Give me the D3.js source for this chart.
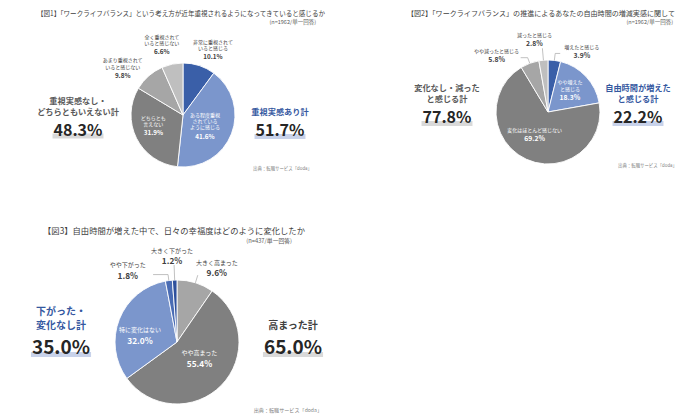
<!DOCTYPE html>
<html>
<head>
<meta charset="utf-8">
<script src="https://cdn.jsdelivr.net/npm/d3@7"></script>
<style>
  body { margin: 0; background: #fff; }
  svg { display: block; font-family: "Noto Sans CJK JP", "Noto Sans", sans-serif; }
</style>
</head>
<body>
<svg id="chart" width="700" height="420"></svg>
<script>
// ---- data ----
const fig1Title = "【図1】「ワークライフバランス」という考え方が近年重視されるようになってきていると感じるか";
const fig1Note = "(n=1962/単一回答)";
const fig1Categories = ["非常に重視されて\nいると感じる", "ある程度重視\nされている\nように感じる", "どちらとも\n言えない", "あまり重視されて\nいると感じない", "全く重視されて\nいると感じない"];
const fig1Values = [10.1, 41.6, 31.9, 9.8, 6.6];
const fig1TotalLabels = ["重視実感なし・\nどちらともいえない計", "重視実感あり計"];
const fig1TotalValues = [48.3, 51.7];

const fig2Title = "【図2】「ワークライフバランス」の推進によるあなたの自由時間の増減実感に関して";
const fig2Note = "(n=1962/単一回答)";
const fig2Categories = ["増えたと感じる", "やや増えた\nと感じる", "変化はほとんど感じない", "やや減ったと感じる", "減ったと感じる"];
const fig2Values = [3.9, 18.3, 69.2, 5.8, 2.8];
const fig2TotalLabels = ["変化なし・減った\nと感じる計", "自由時間が増えた\nと感じる計"];
const fig2TotalValues = [77.8, 22.2];

const fig3Title = "【図3】自由時間が増えた中で、日々の幸福度はどのように変化したか";
const fig3Note = "(n=437/単一回答)";
const fig3Categories = ["大きく高まった", "やや高まった", "特に変化はない", "やや下がった", "大きく下がった"];
const fig3Values = [9.6, 55.4, 32.0, 1.8, 1.2];
const fig3TotalLabels = ["下がった・\n変化なし計", "高まった計"];
const fig3TotalValues = [35.0, 65.0];

const sourceText = "出典：転職サービス「doda」";

// ---- colours ----
const darkBlue = "#3a5fa8", lightBlue = "#7b96cc", midBlue = "#4a6cb4", deepBlue = "#2e509c";
const darkGray = "#808080", midGray = "#a6a6a6", lightGray = "#bfbfbf";
const blueText = "#35589f";

// ---- layout for each chart ----
const charts = [
  {
    title: fig1Title, note: fig1Note, categories: fig1Categories, values: fig1Values,
    colors: [darkBlue, lightBlue, darkGray, midGray, lightGray],
    cx: 183, cy: 115, r: 52,
    titleX: 37, titleY: 15.5, titleW: 288, titleSize: 7, noteX: 316, noteY: 24, noteSize: 5.5,
    srcX: 312, srcY: 170, srcSize: 4.4,
    inside: [false, true, true, false, false],
    labelPos: [[64, 10, 5], [30, -6, 13], [32, -1, 6], [64, -18, 11], [64, -8, 2]],
    leaders: [null, null, null, null, null],
    nameSize: 5, pctSize: 6.3, lh: 6.2, gap: 9.5,
    totals: [
      { x: 78, lines: [103.5, 115], num: 135.5, labelColor: "#595959", bar: "#d9d9d9" },
      { x: 280, lines: [115], num: 136, labelColor: blueText, bar: "#c8d2ea" }
    ],
    totalLabelSize: 8.2, totalNumSize: 16,
    totalLabels: fig1TotalLabels, totalValues: fig1TotalValues
  },
  {
    title: fig2Title, note: fig2Note, categories: fig2Categories, values: fig2Values,
    colors: [darkBlue, lightBlue, darkGray, midGray, lightGray],
    cx: 548, cy: 112, r: 52,
    titleX: 407, titleY: 15.5, titleW: 268, titleSize: 7, noteX: 673, noteY: 24, noteSize: 5.5,
    srcX: 677, srcY: 167, srcSize: 4.4,
    inside: [false, true, true, false, false],
    labelPos: [[64, 26, 10], [30, 0, 8], [25, -3, 6], [64, -29, 10], [64, -8, -2]],
    leaders: [[52, 59, 5], null, null, [52, 58, -7], [52, 64, 0]],
    nameSize: 5, pctSize: 6.8, lh: 7, gap: 9,
    totals: [
      { x: 447, lines: [90.5, 102], num: 123, labelColor: "#595959", bar: "#d9d9d9" },
      { x: 638, lines: [90.5, 102], num: 123, labelColor: blueText, bar: "#c8d2ea" }
    ],
    totalLabelSize: 8.2, totalNumSize: 16,
    totalLabels: fig2TotalLabels, totalValues: fig2TotalValues
  },
  {
    title: fig3Title, note: fig3Note, categories: fig3Categories, values: fig3Values,
    colors: [midGray, darkGray, lightBlue, midBlue, deepBlue],
    cx: 177, cy: 342, r: 62,
    titleX: 43, titleY: 233.5, titleW: 262, titleSize: 8.3, noteX: 292, noteY: 242.5, noteSize: 5.8,
    srcX: 322, srcY: 412, srcSize: 5.1,
    inside: [false, true, true, false, false],
    labelPos: [[70, 19, 1], [30, 1, 4], [42, 2, 17], [70, -40, 6], [78, -2, 0]],
    leaders: [[62, 70, 0], null, null, [62, 68, -15], [62, 77, 0]],
    nameSize: 6, pctSize: 8.3, lh: 7, gap: 11.5,
    totals: [
      { x: 61, lines: [314.5, 329], num: 354, labelColor: blueText, bar: "#c8d2ea" },
      { x: 293, lines: [329], num: 354, labelColor: "#404040", bar: "#d9d9d9" }
    ],
    totalLabelSize: 10, totalNumSize: 19,
    totalLabels: fig3TotalLabels, totalValues: fig3TotalValues
  }
];

const svg = d3.select("#chart");
const pie = d3.pie().sort(null).value(d => d);
const fmt = d3.format(".1f");

function drawChart(c) {
  // title and note
  svg.append("text")
    .attr("x", c.titleX).attr("y", c.titleY)
    .attr("font-size", c.titleSize).attr("fill", "#404040")
    .attr("textLength", c.titleW).attr("lengthAdjust", "spacingAndGlyphs")
    .text(c.title);
  svg.append("text")
    .attr("x", c.noteX).attr("y", c.noteY)
    .attr("text-anchor", "end")
    .attr("font-size", c.noteSize).attr("fill", "#595959")
    .text(c.note);
  svg.append("text")
    .attr("x", c.srcX).attr("y", c.srcY)
    .attr("text-anchor", "end")
    .attr("font-size", c.srcSize).attr("fill", "#7f7f7f")
    .text(sourceText);

  const g = svg.append("g").attr("transform", `translate(${c.cx},${c.cy})`);
  const arcs = pie(c.values);
  const arc = d3.arc().innerRadius(0).outerRadius(c.r);

  // slices
  g.selectAll("path.slice")
    .data(arcs)
    .join("path")
    .attr("class", "slice")
    .attr("d", arc)
    .attr("fill", (d, i) => c.colors[i])
    .attr("stroke", "#fff")
    .attr("stroke-width", 0.9);

  const pt = (a, r) => [r * Math.sin(a), -r * Math.cos(a)];

  // leader lines
  arcs.forEach((d, i) => {
    const ld = c.leaders[i];
    if (!ld) return;
    const a = (d.startAngle + d.endAngle) / 2;
    const p0 = pt(a, ld[0]), p1 = pt(a, ld[1]);
    g.append("path")
      .attr("d", d3.line()([p0, p1, [p1[0] + ld[2], p1[1]]]))
      .attr("fill", "none")
      .attr("stroke", "#a6a6a6")
      .attr("stroke-width", 0.7);
  });

  // slice labels (anchor = baseline of the percentage)
  arcs.forEach((d, i) => {
    const [lr, dx, dy] = c.labelPos[i];
    const [x0, y0] = d3.arc().innerRadius(lr).outerRadius(lr).centroid(d);
    const x = x0 + dx, y = y0 + dy;
    const color = c.inside[i] ? "#fff" : "#404040";
    const lines = c.categories[i].split("\n");
    lines.forEach((line, j) => {
      g.append("text")
        .attr("x", x)
        .attr("y", y - c.gap - (lines.length - 1 - j) * c.lh)
        .attr("text-anchor", "middle")
        .attr("font-size", c.nameSize)
        .attr("fill", color)
        .text(line);
    });
    g.append("text")
      .attr("x", x).attr("y", y)
      .attr("text-anchor", "middle")
      .attr("font-size", c.pctSize)
      .attr("font-weight", "bold")
      .attr("fill", color)
      .text(fmt(d.data) + "%");
  });

  // totals on both sides
  c.totals.forEach((t, i) => {
    const lines = c.totalLabels[i].split("\n");
    lines.forEach((line, j) => {
      svg.append("text")
        .attr("x", t.x).attr("y", t.lines[j])
        .attr("text-anchor", "middle")
        .attr("font-size", c.totalLabelSize)
        .attr("font-weight", "bold")
        .attr("fill", t.labelColor)
        .text(line);
    });
    const bar = svg.append("rect").attr("fill", t.bar);
    const num = svg.append("text")
      .attr("x", t.x).attr("y", t.num)
      .attr("text-anchor", "middle")
      .attr("font-size", c.totalNumSize)
      .attr("font-weight", "bold")
      .attr("fill", "#262626")
      .text(fmt(c.totalValues[i]) + "%");
    const bb = num.node().getBBox();
    bar.attr("x", bb.x - 1).attr("width", bb.width + 2)
      .attr("y", t.num - 2).attr("height", 5);
  });
}

charts.forEach(drawChart);
</script>
</body>
</html>
